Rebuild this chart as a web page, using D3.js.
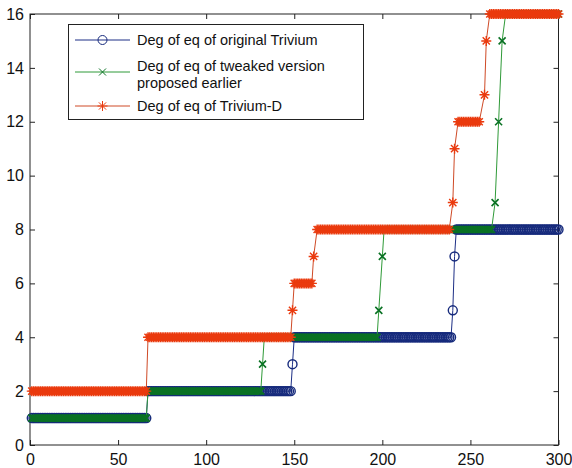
<!DOCTYPE html>
<html>
<head>
<meta charset="utf-8">
<script src="https://cdn.jsdelivr.net/npm/d3@7"></script>
<style>
  body { margin: 0; background: #fff; }
  text { font-family: Arial, 'Liberation Sans', sans-serif; fill: #111; }
</style>
</head>
<body>
<svg id="chart" width="572" height="468"></svg>
<script>
// Step runs: [first x, last x, degree]
const originalSteps = [
  [1, 66, 1], [67, 148, 2], [149, 149, 3], [150, 239, 4],
  [240, 240, 5], [241, 241, 7], [242, 300, 8]
]
const tweakedSteps = [
  [1, 66, 1], [67, 131, 2], [132, 132, 3], [133, 197, 4],
  [198, 198, 5], [200, 200, 7], [201, 262, 8], [264, 264, 9],
  [266, 266, 12], [268, 268, 15], [270, 300, 16]
]
const triviumDSteps = [
  [1, 66, 2], [67, 148, 4], [149, 149, 5], [150, 160, 6],
  [161, 161, 7], [163, 238, 8], [240, 240, 9], [241, 241, 11],
  [243, 255, 12], [258, 258, 13], [259, 259, 15], [261, 300, 16]
]
const seriesNames = [
  ['Deg of eq of original Trivium'],
  ['Deg of eq of tweaked version', 'proposed earlier'],
  ['Deg of eq of Trivium-D']
]
const xTicks = [0, 50, 100, 150, 200, 250, 300]
const yTicks = [0, 2, 4, 6, 8, 10, 12, 14, 16]

// one point per integer x inside each run
function expand (steps) {
  let pts = []
  steps.forEach(s => {
    for (let k = s[0]; k <= s[1]; k++) pts.push([k, s[2]])
  })
  return pts
}

let svg = d3.select('#chart')
let box = { left: 30, right: 558.5, top: 14, bottom: 445 }

let x = d3.scaleLinear().domain([0, 300]).range([box.left, box.right])
let y = d3.scaleLinear().domain([0, 16]).range([box.bottom, box.top])

let markers = {
  circle: null,
  cross: 'M-3.5,-3.5L3.5,3.5M-3.5,3.5L3.5,-3.5',
  star: 'M-5,0H5M0,-5V5M-3.6,-3.6L3.6,3.6M-3.6,3.6L3.6,-3.6'
}

let series = [
  { pts: expand(originalSteps), color: '#162a7c', line: '#1d2f86', marker: 'circle', w: 1.4 },
  { pts: expand(tweakedSteps), color: '#0a7224', line: '#2f9a38', marker: 'cross', w: 1.6 },
  { pts: expand(triviumDSteps), color: '#ea3a0e', line: '#cf4a26', marker: 'star', w: 1.4 }
]

// Axes, MATLAB style: ticks inward on all four sides
let axisGroup = svg.append('g').attr('class', 'axes')

axisGroup.append('g')
  .attr('transform', 'translate(0,' + box.bottom + ')')
  .call(d3.axisBottom(x).tickValues(xTicks).tickSizeInner(-5).tickSizeOuter(0).tickPadding(9))
axisGroup.append('g')
  .attr('transform', 'translate(0,' + box.top + ')')
  .call(d3.axisTop(x).tickValues(xTicks).tickSizeInner(-5).tickSizeOuter(0).tickFormat(''))
axisGroup.append('g')
  .attr('transform', 'translate(' + box.left + ',0)')
  .call(d3.axisLeft(y).tickValues(yTicks).tickSizeInner(-5).tickSizeOuter(0).tickPadding(6))
axisGroup.append('g')
  .attr('transform', 'translate(' + box.right + ',0)')
  .call(d3.axisRight(y).tickValues(yTicks).tickSizeInner(-5).tickSizeOuter(0).tickFormat(''))

axisGroup.selectAll('.domain').remove()
axisGroup.selectAll('.tick line').attr('stroke', '#222')
axisGroup.selectAll('.tick text')
  .style('font-size', '16px')
  .attr('fill', '#111')

axisGroup.append('rect')
  .attr('x', box.left)
  .attr('y', box.top)
  .attr('width', box.right - box.left)
  .attr('height', box.bottom - box.top)
  .attr('fill', 'none')
  .attr('stroke', '#222')
  .attr('stroke-width', 1)

// Series: line first, then markers at every point
let line = d3.line().x(d => x(d[0])).y(d => y(d[1]))

function drawMarker (sel, kind, color, w) {
  if (kind === 'circle') {
    sel.append('circle')
      .attr('r', 4.5)
      .attr('fill', 'none')
      .attr('stroke', color)
      .attr('stroke-width', w)
  } else {
    sel.append('path')
      .attr('d', markers[kind])
      .attr('fill', 'none')
      .attr('stroke', color)
      .attr('stroke-width', w)
  }
}

series.forEach(s => {
  let g = svg.append('g')
  g.append('path')
    .datum(s.pts)
    .attr('d', line)
    .attr('fill', 'none')
    .attr('stroke', s.line)
    .attr('stroke-width', 1)

  let m = g.selectAll('.mk')
    .data(s.pts)
    .enter()
    .append('g')
    .attr('class', 'mk')
    .attr('transform', d => 'translate(' + x(d[0]) + ',' + y(d[1]) + ')')
  drawMarker(m, s.marker, s.color, s.w)
})

// Legend
let legend = svg.append('g').attr('class', 'legend')
legend.append('rect')
  .attr('x', 68.5)
  .attr('y', 24.5)
  .attr('width', 295)
  .attr('height', 95)
  .attr('fill', '#fff')
  .attr('stroke', '#222')

let rows = [
  { lineY: 40, baselines: [45] },
  { lineY: 72, baselines: [71, 88] },
  { lineY: 106, baselines: [111] }
]

rows.forEach((r, i) => {
  let s = series[i]
  legend.append('line')
    .attr('x1', 75).attr('x2', 130)
    .attr('y1', r.lineY).attr('y2', r.lineY)
    .attr('stroke', s.line)
  let m = legend.append('g').attr('transform', 'translate(102.5,' + r.lineY + ')')
  drawMarker(m, s.marker, s.color, 1)
  seriesNames[i].forEach((t, j) => {
    legend.append('text')
      .attr('x', 137)
      .attr('y', r.baselines[j])
      .style('font-size', '14.5px')
      .text(t)
  })
})
</script>
</body>
</html>
